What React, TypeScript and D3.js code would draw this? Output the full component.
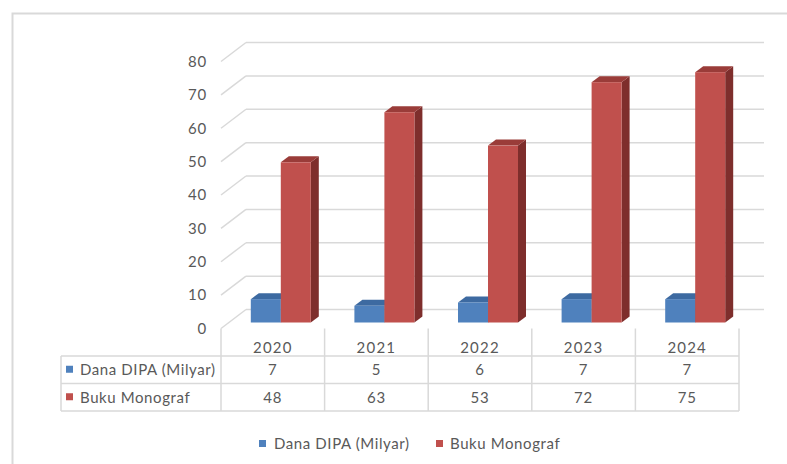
import React from "react";
import * as d3 from "d3";

const categories = ["2020", "2021", "2022", "2023", "2024"];
const seriesNames = ["Dana DIPA (Milyar)", "Buku Monograf"];
const danaDipa = [7, 5, 6, 7, 7];
const bukuMonograf = [48, 63, 53, 72, 75];
const yTicks = [0, 10, 20, 30, 40, 50, 60, 70, 80];

const W = 787;
const H = 464;
const FONT = "Lato, 'Liberation Sans', sans-serif";
const TXT = "#595959";
const GRID = "#d9d9d9";

const front = { left: 221, right: 739, y0: 328.5, y1: 61.5 };
const depth = { dx: 25, dy: -19 };
const barShift = { dx: 8, dy: -6 };
const barSide = { dx: 8, dy: -6 };
const barW = 30;

const colors = [
  { front: "#4f81bd", top: "#3d6aa1", side: "#2f5383" },
  { front: "#c0504d", top: "#9a3c39", side: "#7e2e2c" },
];

export default function App() {
  const x = d3.scaleBand<string>().domain(categories).range([front.left, front.right]).padding(0);
  const y = d3.scaleLinear().domain([0, 80]).range([front.y0, front.y1]);
  const series = [danaDipa, bukuMonograf];

  const rowTop = 356;
  const rowH = 27.5;
  const tableLeft = 61;

  return (
    <svg width={W} height={H} style={{ position: "absolute", left: 0, top: 0, background: "#fff" }} fontFamily={FONT}>
      <rect x={12.5} y={13.5} width={820} height={500} fill="#fff" stroke={GRID} strokeWidth={2} />
      {/* gridlines */}
      {yTicks.map((t) => (
        <g key={t}>
          <line x1={front.left + depth.dx} x2={front.right + depth.dx} y1={y(t) + depth.dy} y2={y(t) + depth.dy} stroke={GRID} strokeWidth={1.5} />
          <line x1={front.left} x2={front.left + depth.dx} y1={y(t)} y2={y(t) + depth.dy} stroke={GRID} strokeWidth={1.5} />
          <text x={207} y={y(t)} dy="0.35em" textAnchor="end" fontSize={15} fill={TXT} letterSpacing={0.8}>{t}</text>
        </g>
      ))}
      {/* bars */}
      {categories.map((c, i) => {
        const cx = (x(c) as number) + x.bandwidth() / 2 + barShift.dx;
        return (
          <g key={c}>
            {series.map((s, si) => {
              const x0 = cx - barW + si * barW;
              const x1 = x0 + barW;
              const yb = y(0) + barShift.dy;
              const yt = y(s[i]) + barShift.dy;
              const col = colors[si];
              return (
                <g key={si}>
                  <polygon points={`${x1},${yt} ${x1 + barSide.dx},${yt + barSide.dy} ${x1 + barSide.dx},${yb + barSide.dy} ${x1},${yb}`} fill={col.side} />
                  <polygon points={`${x0},${yt} ${x1},${yt} ${x1 + barSide.dx},${yt + barSide.dy} ${x0 + barSide.dx},${yt + barSide.dy}`} fill={col.top} />
                  <rect x={x0} y={yt} width={barW} height={yb - yt} fill={col.front} />
                </g>
              );
            })}
          </g>
        );
      })}
      {/* data table */}
      {[0, 1, 2].map((r) => (
        <line key={r} x1={tableLeft} x2={front.right} y1={rowTop + r * rowH} y2={rowTop + r * rowH} stroke={GRID} strokeWidth={1.5} />
      ))}
      <line x1={tableLeft} x2={tableLeft} y1={rowTop} y2={rowTop + 2 * rowH} stroke={GRID} strokeWidth={1.5} />
      {[...categories.map((c) => x(c) as number), front.right].map((vx, i) => (
        <line key={i} x1={vx} x2={vx} y1={front.y0} y2={rowTop + 2 * rowH} stroke={GRID} strokeWidth={1.5} />
      ))}
      {categories.map((c) => (
        <text key={c} x={(x(c) as number) + x.bandwidth() / 2} y={rowTop - 3} textAnchor="middle" fontSize={15} fill={TXT} letterSpacing={1.2}>{c}</text>
      ))}
      {series.map((s, si) => (
        <g key={si}>
          <rect x={66} y={rowTop + si * rowH + rowH / 2 - 4} width={7} height={7} fill={colors[si].front} />
          <text x={80} y={rowTop + si * rowH + rowH / 2} dy="0.35em" fontSize={15} fill={TXT} letterSpacing={0.6}>{seriesNames[si]}</text>
          {categories.map((c, i) => (
            <text key={c} x={(x(c) as number) + x.bandwidth() / 2} y={rowTop + si * rowH + rowH / 2} dy="0.35em" textAnchor="middle" fontSize={15} fill={TXT} letterSpacing={0.8}>{s[i]}</text>
          ))}
        </g>
      ))}
      {/* legend */}
      <rect x={259} y={440} width={7} height={7} fill={colors[0].front} />
      <text x={274} y={443.5} dy="0.35em" fontSize={15} fill={TXT} letterSpacing={0.6}>{seriesNames[0]}</text>
      <rect x={436} y={440} width={7} height={7} fill={colors[1].front} />
      <text x={450} y={443.5} dy="0.35em" fontSize={15} fill={TXT} letterSpacing={0.6}>{seriesNames[1]}</text>
    </svg>
  );
}
